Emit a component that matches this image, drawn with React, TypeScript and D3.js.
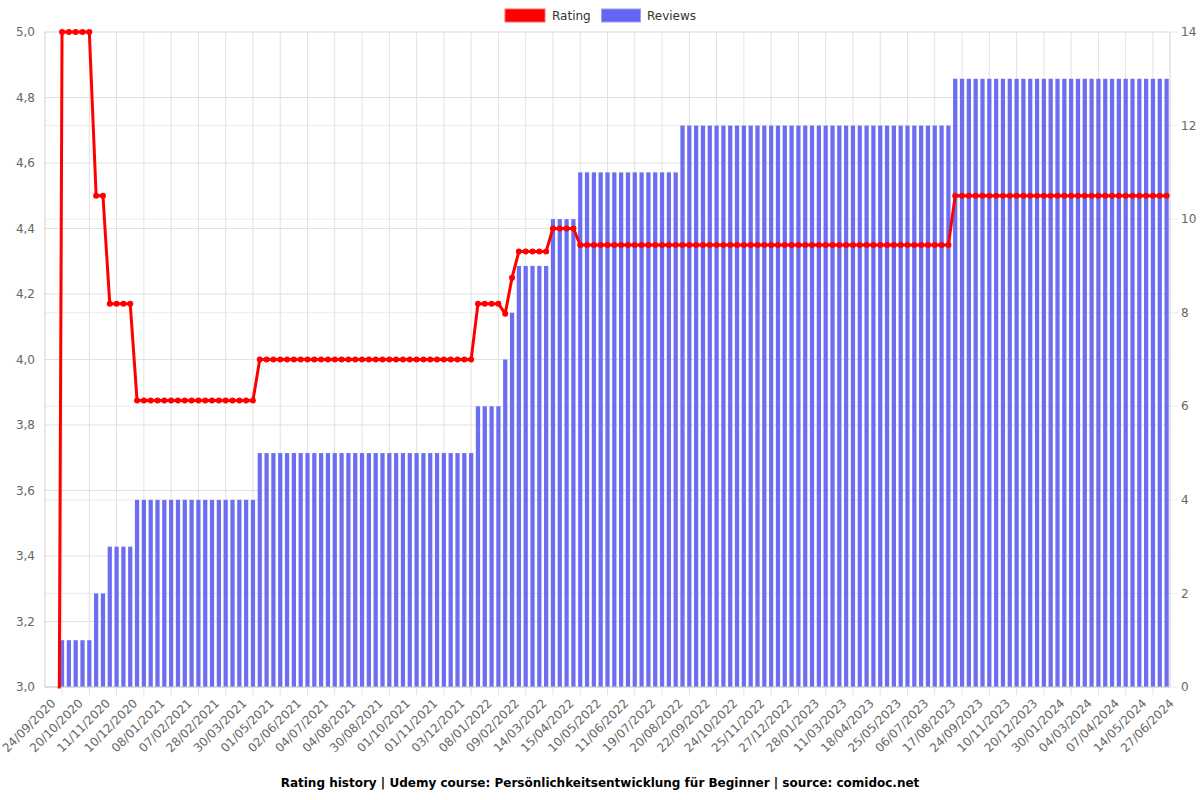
import React from "react";
import * as d3 from "d3";

// Visible category tick labels (every 4th category of 165)
const tickLabels: string[] = [
  "24/09/2020", "20/10/2020", "11/11/2020", "10/12/2020", "08/01/2021", "07/02/2021",
  "28/02/2021", "30/03/2021", "01/05/2021", "02/06/2021", "04/07/2021", "04/08/2021",
  "30/08/2021", "01/10/2021", "01/11/2021", "03/12/2021", "08/01/2022", "09/02/2022",
  "14/03/2022", "15/04/2022", "10/05/2022", "11/06/2022", "19/07/2022", "20/08/2022",
  "22/09/2022", "24/10/2022", "25/11/2022", "27/12/2022", "28/01/2023", "11/03/2023",
  "18/04/2023", "25/05/2023", "06/07/2023", "17/08/2023", "24/09/2023", "10/11/2023",
  "20/12/2023", "30/01/2024", "04/03/2024", "07/04/2024", "14/05/2024", "27/06/2024",
];
const tickEvery = 4;

// Review counts per sampled date (165 samples)
const reviews: number[] = [
  0, 0, 1, 1, 1, 1, 1, 2, 2, 3, 3, 3, 3,
  4, 4, 4, 4, 4, 4, 4, 4, 4, 4, 4, 4, 4, 4, 4, 4, 4, 4,
  5, 5, 5, 5, 5, 5, 5, 5, 5, 5, 5, 5, 5, 5, 5, 5,
  5, 5, 5, 5, 5, 5, 5, 5, 5, 5, 5, 5, 5, 5, 5, 5,
  6, 6, 6, 6, 7, 8, 9, 9, 9, 9, 9, 10, 10, 10, 10,
  11, 11, 11, 11, 11, 11, 11, 11, 11, 11, 11, 11, 11, 11, 11,
  12, 12, 12, 12, 12, 12, 12, 12, 12, 12, 12, 12, 12, 12, 12, 12, 12, 12, 12, 12,
  12, 12, 12, 12, 12, 12, 12, 12, 12, 12, 12, 12, 12, 12, 12, 12, 12, 12, 12, 12,
  13, 13, 13, 13, 13, 13, 13, 13, 13, 13, 13, 13, 13, 13, 13, 13,
  13, 13, 13, 13, 13, 13, 13, 13, 13, 13, 13, 13, 13, 13, 13, 13,
];

// Average rating per sampled date (165 samples)
const rating: number[] = [
  0, 0, 5, 5, 5, 5, 5, 4.5, 4.5, 4.17, 4.17, 4.17, 4.17,
  3.875, 3.875, 3.875, 3.875, 3.875, 3.875, 3.875, 3.875, 3.875,
  3.875, 3.875, 3.875, 3.875, 3.875, 3.875, 3.875, 3.875, 3.875,
  4, 4, 4, 4, 4, 4, 4, 4, 4, 4, 4, 4, 4, 4, 4, 4,
  4, 4, 4, 4, 4, 4, 4, 4, 4, 4, 4, 4, 4, 4, 4, 4,
  4.17, 4.17, 4.17, 4.17, 4.14, 4.25, 4.33, 4.33, 4.33, 4.33, 4.33,
  4.4, 4.4, 4.4, 4.4,
  4.35, 4.35, 4.35, 4.35, 4.35, 4.35, 4.35, 4.35, 4.35, 4.35, 4.35,
  4.35, 4.35, 4.35, 4.35, 4.35, 4.35, 4.35, 4.35, 4.35, 4.35, 4.35,
  4.35, 4.35, 4.35, 4.35, 4.35, 4.35, 4.35, 4.35, 4.35, 4.35, 4.35,
  4.35, 4.35, 4.35, 4.35, 4.35, 4.35, 4.35, 4.35, 4.35, 4.35, 4.35,
  4.35, 4.35, 4.35, 4.35, 4.35, 4.35, 4.35, 4.35, 4.35, 4.35, 4.35,
  4.5, 4.5, 4.5, 4.5, 4.5, 4.5, 4.5, 4.5, 4.5, 4.5, 4.5, 4.5, 4.5, 4.5, 4.5, 4.5,
  4.5, 4.5, 4.5, 4.5, 4.5, 4.5, 4.5, 4.5, 4.5, 4.5, 4.5, 4.5, 4.5, 4.5, 4.5, 4.5,
];

const ratingTicks: number[] = [3.0, 3.2, 3.4, 3.6, 3.8, 4.0, 4.2, 4.4, 4.6, 4.8, 5.0];
const reviewTicks: number[] = [0, 2, 4, 6, 8, 10, 12, 14];

const titleText =
  "Rating history | Udemy course: Persönlichkeitsentwicklung für Beginner | source: comidoc.net";

const W = 1200;
const H = 800;
const M = { left: 45, right: 1170, top: 32, bottom: 687 };
const FONT = "DejaVu Sans, Verdana, sans-serif";
const RED = "#ff0000";
const BLUE = "#6466f1";

export default function App() {
  const idx = d3.range(reviews.length);
  const x = d3
    .scaleBand<number>()
    .domain(idx)
    .range([M.left, M.right])
    .paddingInner(0.38)
    .paddingOuter(0.19);
  const cx = (i: number) => (x(i) as number) + x.bandwidth() / 2;
  const yL = d3.scaleLinear().domain([3, 5]).range([M.bottom, M.top]);
  const yR = d3.scaleLinear().domain([0, 14]).range([M.bottom, M.top]);

  const line = d3
    .line<number>()
    .x((_, i) => cx(i))
    .y((d) => yL(d));

  const fmt = (v: number) => v.toFixed(1).replace(".", ",");

  const labelIdx = tickLabels.map((_, k) => k * tickEvery);
  const gridXs = labelIdx.slice(1).map((i) => cx(i - tickEvery / 2));

  return (
    <svg width={W} height={H} style={{ display: "block", position: "absolute", left: 0, top: 0 }} fontFamily={FONT}>
      <defs>
        <clipPath id="plotclip">
          <rect x={0} y={M.top - 6} width={W} height={M.bottom - M.top + 7.5} />
        </clipPath>
      </defs>
      <rect x={0} y={0} width={W} height={H} fill="#fff" />

      {/* right-axis grid */}
      {reviewTicks.map((t) => (
        <line key={"gr" + t} x1={M.left} x2={M.right + 8} y1={yR(t)} y2={yR(t)} stroke="#ececec" strokeWidth={1} />
      ))}
      {/* left-axis grid */}
      {ratingTicks.map((t) => (
        <line key={"gl" + t} x1={M.left} x2={M.right} y1={yL(t)} y2={yL(t)} stroke="#e1e1e1" strokeWidth={1} />
      ))}
      {/* vertical grid */}
      {gridXs.map((gx, k) => (
        <line key={"gv" + k} x1={gx} x2={gx} y1={M.top} y2={M.bottom + 8} stroke="#e1e1e1" strokeWidth={1} />
      ))}

      {/* bars */}
      {reviews.map((v, i) =>
        v > 0 ? (
          <rect
            key={"b" + i}
            x={x(i)}
            y={yR(v)}
            width={x.bandwidth()}
            height={yR(0) - yR(v)}
            fill={BLUE}
            fillOpacity={0.95}
          />
        ) : null
      )}

      {/* axes borders */}
      <line x1={M.left} x2={M.left} y1={M.top} y2={M.bottom} stroke="#cfcfcf" />
      <line x1={M.right} x2={M.right} y1={M.top} y2={M.bottom} stroke="#cfcfcf" />
      <line x1={M.left} x2={M.right} y1={M.bottom} y2={M.bottom} stroke="#cfcfcf" />

      {/* rating line */}
      <g clipPath="url(#plotclip)">
        <path d={line(rating) || ""} fill="none" stroke={RED} strokeWidth={3} strokeLinejoin="round" />
        {rating.map((v, i) => (
          <circle key={"p" + i} cx={cx(i)} cy={yL(v)} r={3} fill={RED} />
        ))}
      </g>

      {/* left ticks */}
      {ratingTicks.map((t) => (
        <text key={"tl" + t} x={M.left - 10} y={yL(t)} dy="0.35em" textAnchor="end" fontSize={12} fill="#666">
          {fmt(t)}
        </text>
      ))}
      {/* right ticks */}
      {reviewTicks.map((t) => (
        <text key={"tr" + t} x={M.right + 11} y={yR(t)} dy="0.35em" textAnchor="start" fontSize={12} fill="#666">
          {t}
        </text>
      ))}
      {/* x labels */}
      {labelIdx.map((i, k) => {
        const tx = cx(i) + 5;
        const ty = M.bottom + 14;
        return (
          <text
            key={"tx" + k}
            transform={`translate(${tx},${ty}) rotate(-45)`}
            textAnchor="end"
            dy="0.35em"
            fontSize={12}
            fill="#666"
          >
            {tickLabels[k]}
          </text>
        );
      })}

      {/* legend */}
      <rect x={505} y={9} width={40} height={13} fill={RED} stroke="#ff6666" strokeWidth={1} />
      <text x={552} y={20} fontSize={12} fill="#333">Rating</text>
      <rect x={601.5} y={9} width={39} height={13} fill={BLUE} stroke="#9a9cf5" strokeWidth={1} />
      <text x={647} y={20} fontSize={12} fill="#333">Reviews</text>

      {/* title */}
      <text x={600} y={787} textAnchor="middle" fontSize={12} fontWeight="bold" fill="#000">
        {titleText}
      </text>
    </svg>
  );
}
